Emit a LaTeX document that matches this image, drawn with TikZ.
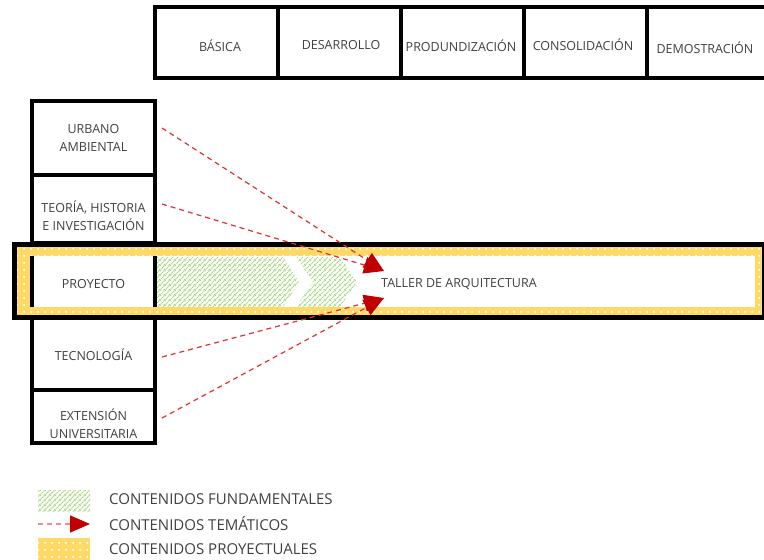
\documentclass[tikz,border=0pt]{standalone}
\usepackage{fontspec}
\setmainfont{Open Sans}
\usetikzlibrary{arrows.meta,patterns.meta}
\definecolor{txt}{HTML}{404040}
\definecolor{arr}{HTML}{C00000}
\definecolor{dsh}{HTML}{E03030}
\definecolor{yel}{HTML}{FFD966}
\definecolor{grn}{HTML}{A3D47A}
\tikzdeclarepattern{name=ydots, type=uncolored, bottom left={(0pt,0pt)}, top right={(7pt,7pt)}, tile size={(7pt,7pt)}, code={\fill (3.5pt,3.5pt) circle (1.3pt);}}
\tikzdeclarepattern{name=ghatch, type=uncolored, bottom left={(0pt,0pt)}, top right={(5pt,5pt)}, tile size={(5pt,5pt)}, code={\draw[line width=1.2pt,dash pattern=on 1.6pt off 0.8pt] (-1pt,-1pt) -- (6pt,6pt); \draw[line width=1.2pt] (-1pt,4pt) -- (1pt,6pt); \draw[line width=1.2pt] (4pt,-1pt) -- (6pt,1pt);}}
\tikzset{
  box/.style={draw=black, line width=4pt, minimum width=123pt, inner sep=0pt},
  lbl/.style={font=\fontsize{12.5}{18}\selectfont, text=txt, align=center, inner sep=0pt},
  leg/.style={font=\fontsize{15}{18}\selectfont, text=txt, anchor=west, inner sep=0pt},
  conn/.style={dsh, line width=1.2pt, dash pattern=on 5pt off 4pt, -{Triangle[length=20pt,width=17pt,color=arr]}},
  legconn/.style={conn, draw=dsh!55},
  greenfill/.style={pattern=ghatch, pattern color=grn},
  yellowfill/.style={fill=yel, postaction={pattern=ydots, pattern color=white}}
}
\begin{document}
\begin{tikzpicture}[x=1pt,y=-1pt]
\useasboundingbox (0,0) rectangle (764,560);
\clip (0,0) rectangle (764,560);
% top row
\node[box, minimum height=71pt] (bas) at (216.5,42.5) {};
\node[box, minimum height=71pt] (des) at (339.5,42.5) {};
\node[box, minimum height=71pt] (pro) at (462.5,42.5) {};
\node[box, minimum height=71pt] (con) at (585.5,42.5) {};
\node[box, minimum height=71pt] (dem) at (708.5,42.5) {};
\node[lbl] (bast) at (220,45.5) {BÁSICA};
\node[lbl] (dest) at (341,45.5) {DESARROLLO};
\node[lbl] (prot) at (461,45.5) {PRODUNDIZACIÓN};
\node[lbl] (cont) at (583,44.5) {CONSOLIDACIÓN};
\node[lbl] (demt) at (705,47.5) {DEMOSTRACIÓN};
% left column
\node[box, minimum height=74pt] (urb) at (93.5,138) {};
\node[box, minimum height=68pt] (teo) at (93.5,209) {};
\node[box, minimum height=72pt] (tec) at (93.5,354) {};
\node[box, minimum height=53pt] (ext) at (93.5,416.5) {};
\node[lbl] (urbt) at (93.5,138) {URBANO\\AMBIENTAL};
\node[lbl] (teot) at (93.5,216) {TEORÍA, HISTORIA\\E INVESTIGACIÓN};
\node[lbl] (tect) at (93.5,355) {TECNOLOGÍA};
\node[lbl] (extt) at (93.5,424) {EXTENSIÓN\\UNIVERSITARIA};
% band
\fill[black] (12,242) rectangle (770,320);
\path[yellowfill] (17,247) rectangle (762,315);
\fill[white] (30,256) rectangle (755,307);
\path[greenfill] (155,257) -- (283,257) -- (299,282) -- (283,307) -- (155,307) -- cycle;
\path[greenfill] (296,257) -- (340,257) -- (357,282) -- (340,307) -- (296,307) -- (313,282) -- cycle;
\draw[line width=4pt] (32,256) -- (32,307) (155,256) -- (155,307);
\node[lbl] (proy) at (93.5,284) {PROYECTO};
\node[lbl, anchor=west] (taller) at (381,284) {TALLER DE ARQUITECTURA};
% arrows
\coordinate (s1) at (162,128);
\coordinate (s2) at (162,204);
\coordinate (s3) at (162,357);
\coordinate (s4) at (162,418);
\coordinate (t1) at (384,271);
\coordinate (t2) at (384,298);
\draw[conn] (s1) -- (t1);
\draw[conn] (s2) -- (t1);
\draw[conn] (s3) -- (t2);
\draw[conn] (s4) -- (t2);
% legend
\path[greenfill] (38,490) rectangle (90,511);
\coordinate (l1) at (38,524);
\coordinate (l2) at (90,524);
\draw[legconn] (l1) -- (l2);
\path[yellowfill] (38,538) rectangle (90,560);
\node[leg] (leg1) at (109,499) {CONTENIDOS FUNDAMENTALES};
\node[leg] (leg2) at (109,524) {CONTENIDOS TEMÁTICOS};
\node[leg] (leg3) at (109,549) {CONTENIDOS PROYECTUALES};
\end{tikzpicture}
\end{document}
